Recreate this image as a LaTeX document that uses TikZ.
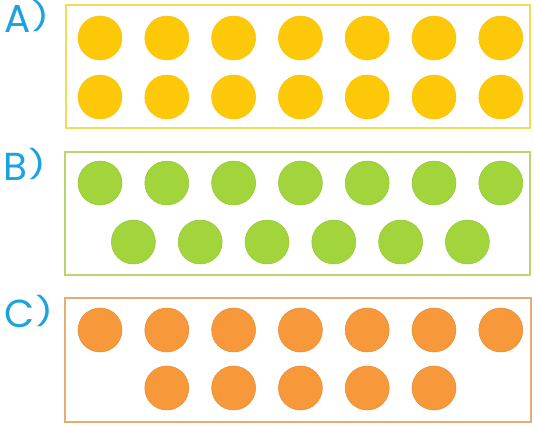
\documentclass[tikz,border=0pt]{standalone}
\usepackage{fontspec}
\setmainfont{Poppins}
\definecolor{lblblue}{HTML}{1BA3DF}
\definecolor{dotyellow}{HTML}{FDC808}
\definecolor{edgeyellow}{HTML}{F2DB55}
\definecolor{dotgreen}{HTML}{A2D53C}
\definecolor{edgegreen}{HTML}{B8D66E}
\definecolor{dotorange}{HTML}{F7983A}
\definecolor{edgeorange}{HTML}{E3AE72}
\newcommand{\pclose}{\kern1pt\raisebox{6pt}{\scalebox{1}[0.72]{)}}}
\begin{document}
\begin{tikzpicture}[x=1pt,y=-1pt,
  lbl/.style={text=lblblue,font=\fontsize{39}{39}\selectfont,inner sep=0pt,anchor=base west},
  framebox/.style={line width=2.4pt},
  dotc/.style={circle,minimum size=44pt,inner sep=0pt,line width=0.5pt}]
\useasboundingbox (0,0) rectangle (534,425);
\fill[white] (0,0) rectangle (534,425);
% labels
\node[lbl] (la) at (4,33) {A\pclose};
\node[lbl] (lb) at (3,180) {B\pclose};
\node[lbl] (lc) at (4,327) {C\pclose};
% frames
\draw[framebox,edgeyellow] (66,5) rectangle (530,128);
\draw[framebox,edgegreen] (65,152) rectangle (530,275);
\draw[framebox,edgeorange] (65,298) rectangle (531,422);
% A dots
\foreach \i in {0,...,6}{
  \node[dotc,fill=dotyellow,draw=dotyellow!90!orange] (a1\i) at ({100+\i*66.8},38) {};
  \node[dotc,fill=dotyellow,draw=dotyellow!90!orange] (a2\i) at ({100+\i*66.8},97) {};
}
% B dots
\foreach \i in {0,...,6}{
  \node[dotc,fill=dotgreen,draw=dotgreen!92!black] (b1\i) at ({100+\i*66.8},183) {};
}
\foreach \i in {0,...,5}{
  \node[dotc,fill=dotgreen,draw=dotgreen!92!black] (b2\i) at ({133.4+\i*66.8},242) {};
}
% C dots
\foreach \i in {0,...,6}{
  \node[dotc,fill=dotorange,draw=dotorange!92!black] (c1\i) at ({100+\i*66.8},330) {};
}
\foreach \i in {0,...,4}{
  \node[dotc,fill=dotorange,draw=dotorange!92!black] (c2\i) at ({166.8+\i*66.8},388) {};
}
\end{tikzpicture}
\end{document}
